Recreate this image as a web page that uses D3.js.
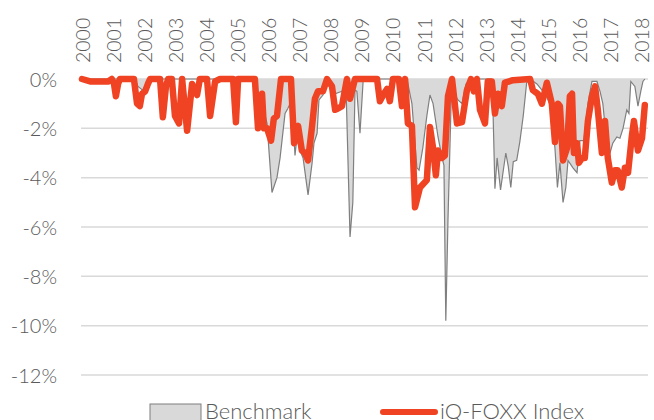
<!doctype html>
<html lang="en">
<head>
<meta charset="utf-8" />
<title>Drawdown</title>
<script src="https://cdn.jsdelivr.net/npm/d3@7"></script>
<style>
	body { margin: 0; background: #fff; }
	svg { display: block; }
	text { font-family: Lato, "Open Sans", sans-serif; font-weight: 300; fill: #595959; }
</style>
</head>
<body>
<svg id="chart" width="654" height="420"></svg>
<script>
	// x ticks
	var years = d3.range(2000, 2019);
	var yTicks = [0, -2, -4, -6, -8, -10, -12];

	// iQ-FOXX Index drawdown (%)
	var foxxDates = [2000.00, 2000.26, 2000.84, 2000.96, 2001.03, 2001.09, 2001.16, 2001.22, 2001.67, 2001.77,
		2001.86, 2001.93, 2002.03, 2002.12, 2002.19, 2002.51, 2002.60, 2002.70, 2002.77, 2002.89,
		2002.99, 2003.12, 2003.22, 2003.38, 2003.54, 2003.70, 2003.79, 2004.02, 2004.12, 2004.28,
		2004.44, 2004.86, 2004.95, 2005.02, 2005.56, 2005.66, 2005.79, 2005.85, 2005.95, 2006.08,
		2006.17, 2006.27, 2006.40, 2006.72, 2006.82, 2006.95, 2007.07, 2007.17, 2007.27, 2007.40,
		2007.49, 2007.59, 2007.75, 2007.88, 2008.04, 2008.14, 2008.23, 2008.36, 2008.52, 2008.62,
		2008.78, 2009.49, 2009.58, 2009.71, 2009.81, 2009.90, 2010.00, 2010.19, 2010.29, 2010.39,
		2010.48, 2010.61, 2010.71, 2010.87, 2011.09, 2011.19, 2011.29, 2011.38, 2011.45, 2011.58,
		2011.67, 2011.77, 2011.90, 2012.06, 2012.22, 2012.38, 2012.51, 2012.60, 2012.70, 2012.80,
		2012.96, 2013.05, 2013.18, 2013.28, 2013.38, 2013.50, 2013.60, 2013.86, 2014.41, 2014.50,
		2014.66, 2014.79, 2014.95, 2015.11, 2015.21, 2015.31, 2015.37, 2015.47, 2015.60, 2015.69,
		2015.76, 2015.82, 2015.92, 2015.98, 2016.08, 2016.17, 2016.27, 2016.40, 2016.50, 2016.59,
		2016.72, 2016.82, 2016.91, 2017.04, 2017.14, 2017.23, 2017.36, 2017.46, 2017.56, 2017.68,
		2017.75, 2017.88, 2018.01, 2018.10];
	var foxxValues = [0, -0.1, -0.1, 0, -0.2, -0.7, -0.2, 0, 0, -1.0,
		-1.1, -0.6, -0.5, -0.2, 0, 0, -1.55, -0.3, 0, 0,
		-1.5, -1.8, 0, -2.1, -0.2, -0.65, 0, 0, -1.5, -0.1,
		0, 0, -1.75, 0, 0, -2.0, -0.6, -2.0, -2.0, -2.5,
		-1.6, -1.5, 0, 0, -2.6, -1.9, -2.9, -3.0, -3.3, -1.9,
		-0.8, -0.5, -0.5, 0, -0.3, -1.25, -1.2, -1.1, 0, -0.8,
		0, 0, -0.9, -0.6, -0.4, -0.9, 0, 0, -1.1, 0,
		-1.8, -1.9, -5.2, -4.4, -4.1, -1.95, -2.8, -3.9, -2.9, -3.2,
		-3.1, -0.7, 0, -1.8, -1.75, -0.45, 0, -0.5, 0, -1.25,
		-1.8, -0.1, -0.1, -1.4, -0.6, -1.1, -0.15, -0.05, 0, -0.45,
		-0.6, -1.0, -0.15, -1.0, -2.55, -1.0, -1.1, -3.3, -2.8, -0.7,
		-0.6, -3.0, -2.6, -3.4, -3.2, -3.2, -1.7, -0.7, -0.3, -1.25,
		-3.0, -1.7, -3.2, -4.2, -3.7, -3.7, -4.4, -3.6, -3.8, -2.35,
		-1.7, -2.9, -2.4, -1.05];

	// Benchmark drawdown (%)
	var benchDates = [2000.00, 2001.70, 2001.80, 2001.95, 2002.15, 2002.25, 2005.56, 2005.60, 2005.75, 2005.95,
		2006.11, 2006.27, 2006.37, 2006.53, 2006.62, 2006.69, 2006.75, 2006.85, 2006.91, 2007.01,
		2007.11, 2007.27, 2007.40, 2007.46, 2007.56, 2007.62, 2007.75, 2007.88, 2008.14, 2008.36,
		2008.49, 2008.62, 2008.71, 2008.78, 2008.84, 2008.94, 2009.04, 2009.13, 2010.45, 2010.61,
		2010.77, 2010.84, 2010.96, 2011.09, 2011.19, 2011.29, 2011.45, 2011.58, 2011.64, 2011.70,
		2011.77, 2011.87, 2011.93, 2012.09, 2012.22, 2012.35, 2012.48, 2013.15, 2013.22, 2013.28,
		2013.35, 2013.46, 2013.55, 2013.63, 2013.71, 2013.79, 2013.87, 2013.98, 2014.08, 2014.19,
		2014.30, 2014.41, 2014.63, 2014.89, 2015.05, 2015.14, 2015.21, 2015.29, 2015.37, 2015.47,
		2015.56, 2015.63, 2015.79, 2015.92, 2016.01, 2016.14, 2016.27, 2016.40, 2016.56, 2016.66,
		2016.75, 2016.82, 2016.91, 2016.98, 2017.07, 2017.20, 2017.30, 2017.40, 2017.52, 2017.59,
		2017.65, 2017.78, 2017.88, 2017.97, 2018.04, 2018.10];
	var benchValues = [0, 0, -0.3, -0.45, -0.1, 0, 0, -0.3, -0.8, -1.8,
		-4.6, -4.0, -3.2, -1.4, -1.2, -1.0, -0.8, -3.1, -2.4, -2.9,
		-3.2, -4.7, -3.4, -2.6, -2.2, -0.85, -0.65, -0.1, -0.6, -0.5,
		-0.3, -6.4, -5.0, -0.45, -0.5, -2.2, -0.1, 0, 0, -1.0,
		-3.6, -3.7, -2.8, -1.5, -0.65, -1.0, -2.35, -3.2, -3.5, -9.8,
		-5.7, -1.0, -0.5, -0.85, -1.0, -0.2, 0, 0, -1.4, -4.45,
		-3.2, -4.5, -3.7, -3.0, -3.55, -4.4, -3.35, -3.3, -2.55, -1.5,
		-0.15, 0, -0.2, -0.6, -1.0, -2.0, -2.8, -4.4, -3.4, -5.0,
		-4.4, -3.3, -3.6, -3.8, -2.5, -2.5, -1.0, -0.1, -0.1, -0.5,
		-1.0, -1.9, -2.5, -3.0, -2.6, -2.35, -2.4, -2.0, -1.25, -1.4,
		-0.1, -0.3, -1.1, -0.5, -0.1, 0];

	var foxx = foxxDates.map(function (d, i) { return { t: d, v: foxxValues[i] }; });
	var bench = benchDates.map(function (d, i) { return { t: d, v: benchValues[i] }; });

	var svg = d3.select("#chart");

	var x = d3.scaleLinear().domain([2000, 2018]).range([82, 641.7]);
	var y = d3.scaleLinear().domain([-12, 0]).range([375, 79]);

	// grid
	svg.append("g").selectAll("line")
		.data(yTicks)
		.join("line")
		.attr("x1", 81).attr("x2", 648)
		.attr("y1", function (d) { return y(d); })
		.attr("y2", function (d) { return y(d); })
		.attr("stroke", "#d9d9d9")
		.attr("stroke-width", 1.5);

	// y labels
	var yAxis = d3.axisLeft(y)
		.tickValues(yTicks)
		.tickSize(0)
		.tickPadding(0)
		.tickFormat(function (d) { return d + "%"; });
	var gy = svg.append("g").attr("transform", "translate(57,0)").call(yAxis);
	gy.select(".domain").remove();
	gy.selectAll("text").style("font-size", "20px").attr("fill", "#595959").attr("dy", "0.36em");

	// x labels, rotated, at the top
	var xAxis = d3.axisTop(x)
		.tickValues(years)
		.tickSize(0)
		.tickFormat(d3.format("d"));
	var gx = svg.append("g").attr("transform", "translate(0,63)").call(xAxis);
	gx.select(".domain").remove();
	gx.selectAll("text")
		.style("font-size", "19.5px")
		.attr("fill", "#595959")
		.attr("transform", "rotate(-90)")
		.attr("text-anchor", "start")
		.attr("x", 0).attr("y", 0).attr("dy", "0.36em");

	// benchmark area
	var area = d3.area()
		.x(function (d) { return x(d.t); })
		.y0(y(0))
		.y1(function (d) { return y(d.v); });
	var line = d3.line()
		.x(function (d) { return x(d.t); })
		.y(function (d) { return y(d.v); });

	svg.append("path").datum(bench)
		.attr("d", area)
		.attr("fill", "#d9d9d9");
	svg.append("path").datum(bench)
		.attr("d", line)
		.attr("fill", "none")
		.attr("stroke", "#7f7f7f")
		.attr("stroke-width", 1.2);

	svg.append("path").datum(foxx)
		.attr("d", line)
		.attr("fill", "none")
		.attr("stroke", "#ef4323")
		.attr("stroke-width", 6.5)
		.attr("stroke-linejoin", "round")
		.attr("stroke-linecap", "round");

	// legend
	var lg = svg.append("g");
	lg.append("rect")
		.attr("x", 150).attr("y", 404).attr("width", 51).attr("height", 20)
		.attr("fill", "#d9d9d9").attr("stroke", "#7f7f7f").attr("stroke-width", 1);
	lg.append("text").attr("x", 205).attr("y", 419).style("font-size", "22px").text("Benchmark");
	lg.append("line")
		.attr("x1", 383).attr("x2", 435).attr("y1", 412).attr("y2", 412)
		.attr("stroke", "#ef4323").attr("stroke-width", 6).attr("stroke-linecap", "round");
	lg.append("text").attr("x", 440).attr("y", 419).style("font-size", "22px").text("iQ-FOXX Index");
</script>
</body>
</html>
